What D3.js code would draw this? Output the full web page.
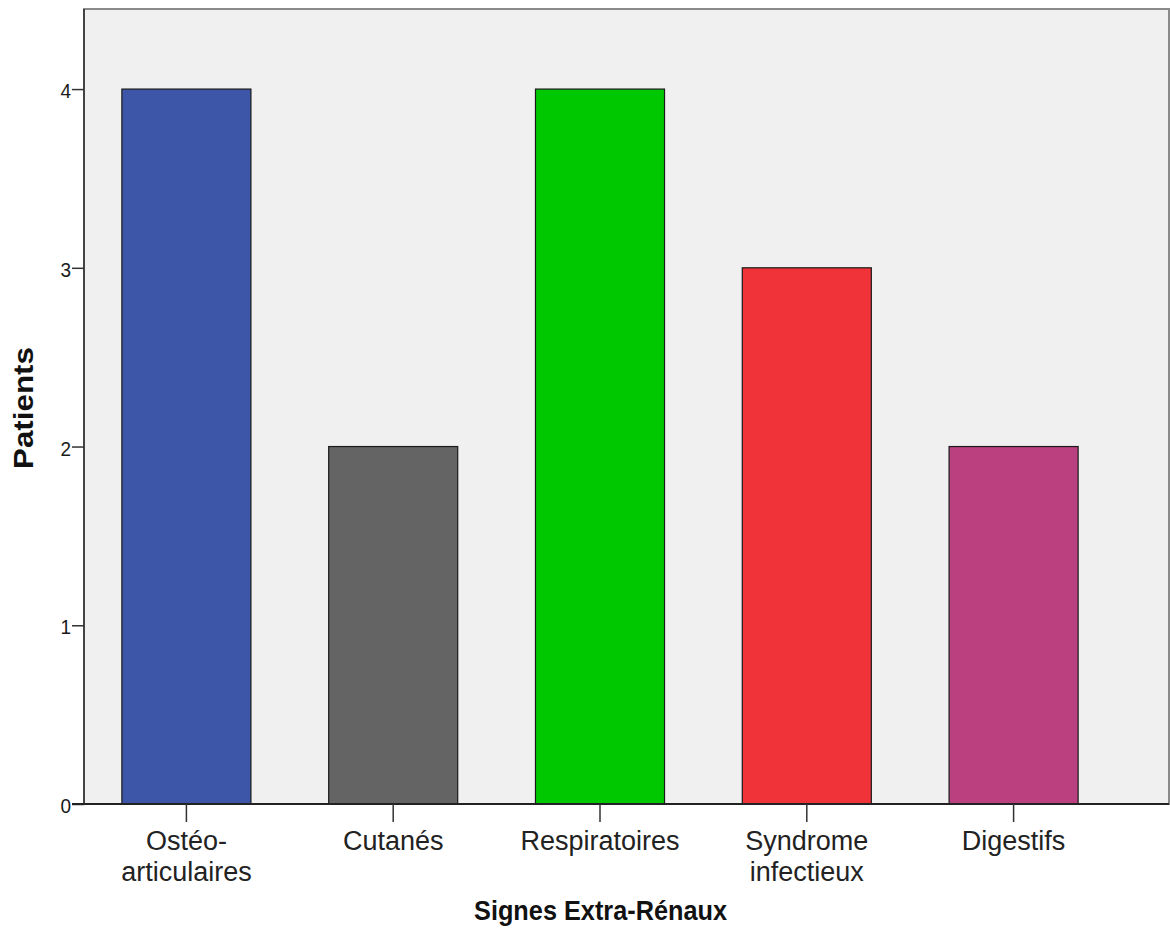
<!DOCTYPE html>
<html>
<head>
<meta charset="utf-8">
<script src="https://cdn.jsdelivr.net/npm/d3@7"></script>
<style>
  html, body { margin: 0; padding: 0; background: #fff; }
  svg { display: block; }
  text { font-family: "Liberation Sans", Arial, sans-serif; }
</style>
</head>
<body>
<svg id="chart" width="1170" height="938"></svg>
<script>
// Signes extra-rénaux : nombre de patients par catégorie
const categories = [["Ostéo-", "articulaires"], ["Cutanés"], ["Respiratoires"], ["Syndrome", "infectieux"], ["Digestifs"]];
const patients = [4, 2, 4, 3, 2];
const barColors = ["#3d56a8", "#646464", "#00c800", "#ef3339", "#bb4080"];
const yTicks = [0, 1, 2, 3, 4];
const xTitle = "Signes Extra-Rénaux";
const yTitle = "Patients";

const svg = d3.select("#chart");
const frame = { left: 84, right: 1169, top: 9, bottom: 804 };

const keys = categories.map(c => c.join(" "));
const x = d3.scaleBand()
  .domain(keys)
  .range([83, 1117])
  .paddingInner(0.376)
  .paddingOuter(0.188);

const y = d3.scaleLinear()
  .domain([0, 4.448])
  .range([frame.bottom, frame.top]);

// text placed at (px, py), with an optional vertical stretch of the glyphs
function label(g, px, py, str, size, opts = {}) {
  const k = opts.stretch || 1;
  return g.append("text")
    .attr("transform", `translate(${px},${py}) scale(1,${k})` + (opts.rotate ? ` rotate(${opts.rotate})` : ""))
    .attr("text-anchor", opts.anchor || "middle")
    .attr("font-size", size)
    .attr("font-weight", opts.weight || "normal")
    .attr("fill", opts.fill || "#1a1a1a")
    .text(str);
}

// plot background and frame
svg.append("rect")
  .attr("x", frame.left).attr("y", frame.top)
  .attr("width", frame.right - frame.left).attr("height", frame.bottom - frame.top)
  .attr("fill", "#f0f0f0")
  .attr("stroke", "#8a8a8a").attr("stroke-width", 2);

// bars
svg.append("g").selectAll("rect")
  .data(patients)
  .join("rect")
  .attr("x", (d, i) => x(keys[i]))
  .attr("y", d => y(d))
  .attr("width", x.bandwidth())
  .attr("height", d => y(0) - y(d))
  .attr("fill", (d, i) => barColors[i])
  .attr("stroke", "#1a1a1a").attr("stroke-width", 1.2);

// y axis
const yAxis = svg.append("g")
  .attr("transform", `translate(${frame.left},0)`)
  .call(d3.axisLeft(y).tickValues(yTicks).tickSize(12).tickFormat(""));
yAxis.select(".domain").attr("stroke", "#444").attr("stroke-width", 2)
  .attr("d", `M0,${frame.top}V${frame.bottom}`);
yAxis.selectAll(".tick line").attr("stroke", "#333").attr("stroke-width", 1.5);

const yLabels = svg.append("g");
yTicks.forEach(t => label(yLabels, 71, y(t) + 9, d3.format("d")(t), 19, { anchor: "end", stretch: 1.1 }));

// x axis
const xAxis = svg.append("g")
  .attr("transform", `translate(0,${frame.bottom})`)
  .call(d3.axisBottom(x).tickSize(18).tickFormat(""));
xAxis.select(".domain").attr("stroke", "#222").attr("stroke-width", 2)
  .attr("d", `M${frame.left - 12},0H${frame.right}`);
xAxis.selectAll(".tick line").attr("stroke", "#333").attr("stroke-width", 1.5);

// category labels, one or two lines
const xLabels = svg.append("g");
categories.forEach((lines, i) => {
  const cx = x(keys[i]) + x.bandwidth() / 2;
  lines.forEach((l, j) => label(xLabels, cx, 850 + j * 31, l, 27, { fill: "#222" }));
});

// axis titles
label(svg, 600.5, 920, xTitle, 25.3, { weight: "bold", fill: "#111", stretch: 1.1 });
label(svg, 33, 408, yTitle, 28, { weight: "bold", fill: "#111", rotate: -90, stretch: 1.12 });
</script>
</body>
</html>
